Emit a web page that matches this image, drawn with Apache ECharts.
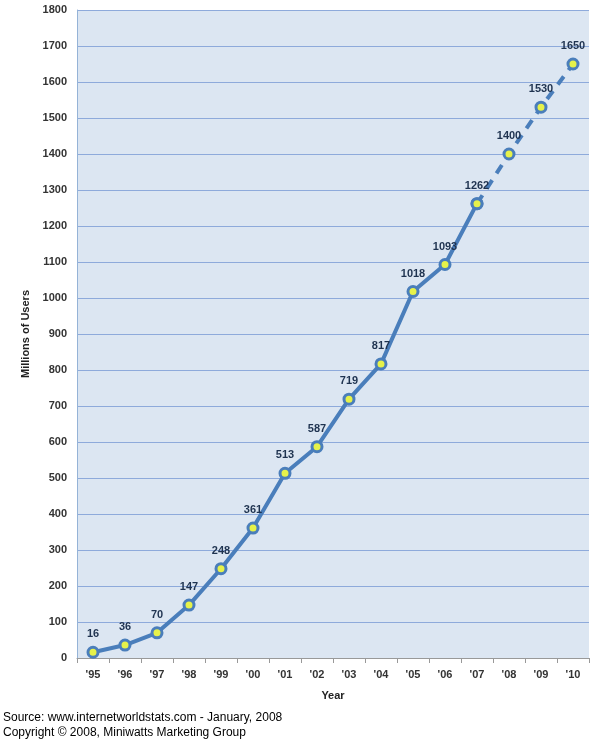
<!DOCTYPE html>
<html>
<head>
<meta charset="utf-8">
<script src="https://cdn.jsdelivr.net/npm/echarts@6/dist/echarts.min.js"></script>
<style>
html, body { margin: 0; padding: 0; background: #fff; }
#chart { width: 604px; height: 750px; }
</style>
</head>
<body>
<div id="chart"></div>
<script>
var years = ["'95", "'96", "'97", "'98", "'99", "'00", "'01", "'02", "'03", "'04", "'05", "'06", "'07", "'08", "'09", "'10"];
var users = [16, 36, 70, 147, 248, 361, 513, 587, 719, 817, 1018, 1093, 1262, 1400, 1530, 1650];
var lastActual = 12; // '07, after that projected (dashed)

var solidData = users.map(function (v, i) { return i <= lastActual ? v : null; });
var dashData = users.map(function (v, i) { return i >= lastActual ? v : null; });

var myChart = echarts.init(document.getElementById('chart'));
var lineColor = '#4a7ebb';
var font = 'Arial, Liberation Sans, sans-serif';

var option = {
  animation: false,
  grid: {
    left: 77,
    right: 15,
    top: 10,
    bottom: 92,
    backgroundColor: '#dce6f2',
    show: true,
    borderWidth: 0
  },
  xAxis: {
    type: 'category',
    data: years,
    boundaryGap: true,
    name: 'Year',
    nameLocation: 'middle',
    nameGap: 32,
    nameTextStyle: { color: '#222', fontWeight: 'bold', fontSize: 11, fontFamily: font },
    axisLine: { lineStyle: { color: '#999', width: 1 } },
    axisTick: { show: true, length: 5, lineStyle: { color: '#999' } },
    axisLabel: { color: '#333', fontWeight: 'bold', fontSize: 11, margin: 11, fontFamily: font }
  },
  yAxis: {
    type: 'value',
    min: 0,
    max: 1800,
    interval: 100,
    name: 'Millions of Users',
    nameLocation: 'middle',
    nameGap: 46,
    nameTextStyle: { color: '#222', fontWeight: 'bold', fontSize: 11, fontFamily: font },
    axisLine: { show: true, lineStyle: { color: '#95b3d7', width: 1 } },
    axisTick: { show: false },
    splitLine: { lineStyle: { color: '#8eaadb', width: 1 } },
    axisLabel: {
      color: '#333', fontWeight: 'bold', fontSize: 11, margin: 10, fontFamily: font,
      formatter: function (v) { return String(v); }
    }
  },
  series: [
    {
      name: 'solid',
      type: 'line',
      data: solidData,
      symbol: 'circle',
      symbolSize: 10,
      lineStyle: { color: lineColor, width: 4 },
      itemStyle: { color: '#e6f24a', borderColor: lineColor, borderWidth: 3 },
      label: { show: true, position: 'top', distance: 6, color: '#1f3350', fontFamily: font, fontWeight: 'bold', fontSize: 11 },
      z: 3
    },
    {
      name: 'dash',
      type: 'line',
      data: dashData,
      symbol: 'circle',
      symbolSize: 10,
      lineStyle: { color: lineColor, width: 4, type: [10, 8] },
      itemStyle: { color: '#e6f24a', borderColor: lineColor, borderWidth: 3 },
      label: {
        show: true, position: 'top', distance: 6, color: '#1f3350', fontFamily: font, fontWeight: 'bold', fontSize: 11,
        formatter: function (p) { return p.dataIndex === lastActual ? '' : p.value; }
      },
      z: 2
    }
  ],
  graphic: [
    {
      type: 'text',
      left: 3,
      top: 710,
      style: {
        text: 'Source: www.internetworldstats.com - January, 2008\nCopyright \u00A9 2008, Miniwatts Marketing Group',
        fill: '#000',
        font: '12px ' + font,
        lineHeight: 15
      }
    }
  ]
};
myChart.setOption(option);
</script>
</body>
</html>
